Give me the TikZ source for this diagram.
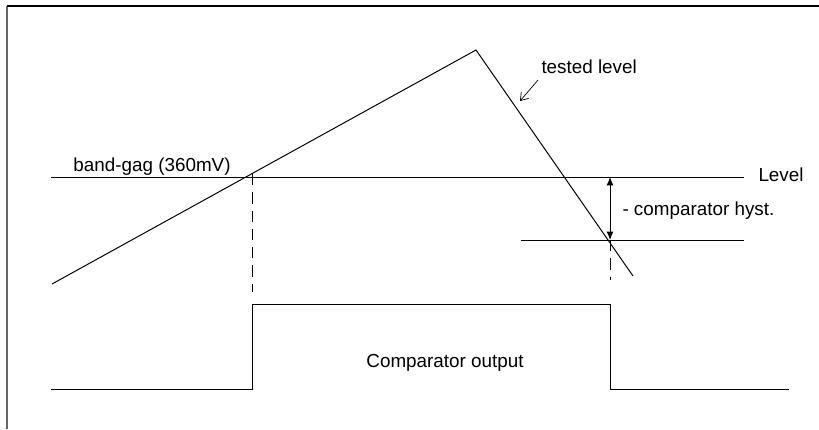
\documentclass[tikz,border=0pt]{standalone}
\usepackage{fontspec}
\setmainfont{Liberation Sans}
\usetikzlibrary{arrows.meta,positioning}

\begin{document}
\begin{tikzpicture}[x=0.025cm,y=-0.025cm,line width=0.7pt,
	lbl/.style={anchor=base west,inner sep=0pt,font=\fontsize{13.4}{16}\selectfont},
	dashline/.style={dash pattern=on 8pt off 5pt,line width=0.6pt}]
	\useasboundingbox (0,0) rectangle (819,429);
	% frame
	\draw[line width=1.4pt,black!60] (7,429) -- (7,6);
	\draw[line width=1.4pt] (7,6) -- (819,6);
	% points
	\coordinate (r_0) at (52,284);
	\coordinate (r_1) at (476,50);
	\coordinate (r_2) at (633,276);
	\coordinate (lvl_l) at (51,177);
	\coordinate (lvl_r) at (744,177);
	\coordinate (hys_l) at (521,240);
	\coordinate (hys_r) at (744,240);
	\coordinate (up_t) at (252,174);
	\coordinate (up_b) at (252,292);
	\coordinate (dn_t) at (610,240);
	\coordinate (dn_b) at (610,280);
	\coordinate (hys_t) at (610,177);
	\coordinate (tst_a) at (538,80);
	\coordinate (tst_b) at (520,101);
	\coordinate (q_0) at (51,389);
	\coordinate (q_1) at (252,389);
	\coordinate (q_2) at (252,304);
	\coordinate (q_3) at (610,304);
	\coordinate (q_4) at (610,389);
	\coordinate (q_5) at (789,389);
	% labels
	\node[lbl] (bg_lbl) at (73,171) {band-gag (360mV)};
	\node[lbl] (lvl_lbl) at (758,181) {Level};
	\node[lbl] (hys_lbl) at (622,215) {- comparator hyst.};
	\node[lbl] (tst_lbl) at (541,73) {tested level};
	\node[lbl,anchor=base] (out_lbl) at (445,367) {Comparator output};
	% signals
	\draw (r_0) -- (r_1) -- (r_2);
	\draw (lvl_l) -- (lvl_r);
	\draw (hys_l) -- (hys_r);
	\draw[dashline] (up_t) -- (up_b);
	\draw[dashline] (dn_t) -- (dn_b);
	\draw[{Latex[length=6pt,width=5pt]}-{Latex[length=6pt,width=5pt]}] (hys_t) -- (dn_t);
	\draw[-{Straight Barb[length=5pt,width=7pt]},line width=0.5pt] (tst_a) -- (tst_b);
	\draw (q_0) -- (q_1) -- (q_2) -- (q_3) -- (q_4) -- (q_5);
\end{tikzpicture}
\end{document}
